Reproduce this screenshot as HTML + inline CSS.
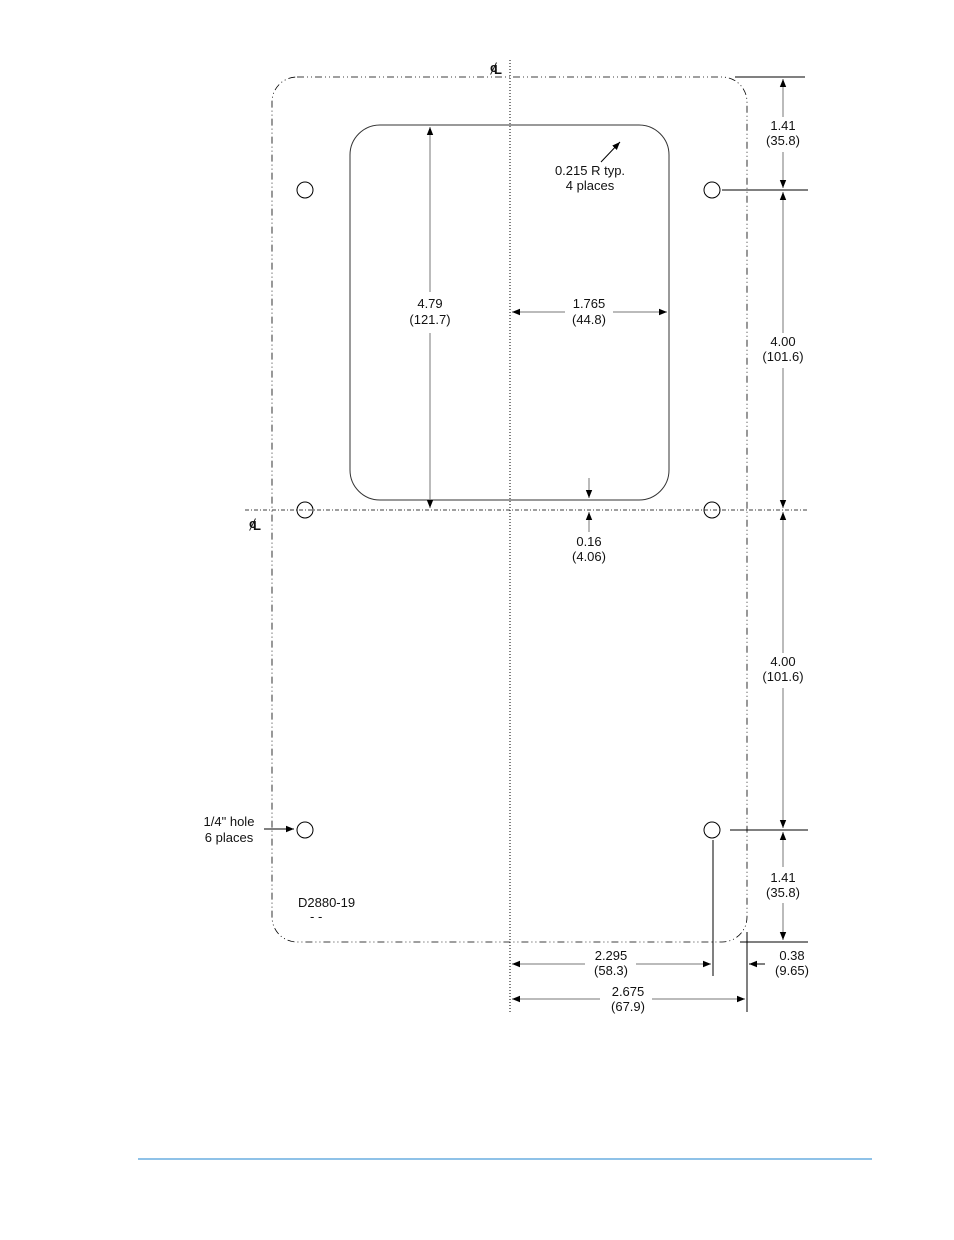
<!DOCTYPE html>
<html><head><style>
body{margin:0;background:#fff}
svg text{font-family:"Liberation Sans",sans-serif;font-size:13px;fill:#111}
</style></head><body>
<svg width="954" height="1235" viewBox="0 0 954 1235" xmlns="http://www.w3.org/2000/svg">
<defs><marker id="a" viewBox="0 0 10 10" refX="10" refY="5" markerWidth="8" markerHeight="8" orient="auto-start-reverse" markerUnits="userSpaceOnUse"><path d="M0,1 L10,5 L0,9z" fill="#000"/></marker></defs>
<g fill="none" stroke="#000" stroke-width="1">
<rect x="272" y="77" width="475" height="865" rx="25" stroke-width="0.8" stroke-dasharray="7,3,1,3,1,3"/>
<line x1="510" y1="60" x2="510" y2="1012" stroke-dasharray="1,2"/>
<line x1="245" y1="510" x2="808" y2="510" stroke-dasharray="4,2,1,2" stroke-width="0.8"/>
<rect x="350" y="125" width="319" height="375" rx="30" stroke="#333"/>
<circle cx="305" cy="190" r="8"/><circle cx="712" cy="190" r="8"/>
<circle cx="305" cy="510" r="8"/><circle cx="712" cy="510" r="8"/>
<circle cx="305" cy="830" r="8"/><circle cx="712" cy="830" r="8"/>
<line x1="735" y1="77" x2="805" y2="77"/>
<line x1="722" y1="190" x2="808" y2="190"/>
<line x1="730" y1="830" x2="808" y2="830"/>
<line x1="740" y1="942" x2="808" y2="942"/>
<g stroke="#777">
<line x1="783" y1="79" x2="783" y2="117" marker-start="url(#a)"/>
<line x1="783" y1="152" x2="783" y2="188" marker-end="url(#a)"/>
<line x1="783" y1="192" x2="783" y2="333" marker-start="url(#a)"/>
<line x1="783" y1="368" x2="783" y2="508" marker-end="url(#a)"/>
<line x1="783" y1="512" x2="783" y2="653" marker-start="url(#a)"/>
<line x1="783" y1="688" x2="783" y2="828" marker-end="url(#a)"/>
<line x1="783" y1="832" x2="783" y2="867" marker-start="url(#a)"/>
<line x1="783" y1="903" x2="783" y2="940" marker-end="url(#a)"/>
<line x1="430" y1="127" x2="430" y2="292" marker-start="url(#a)"/>
<line x1="430" y1="333" x2="430" y2="508" marker-end="url(#a)"/>
<line x1="512" y1="312" x2="565" y2="312" marker-start="url(#a)"/>
<line x1="613" y1="312" x2="667" y2="312" marker-end="url(#a)"/>
<line x1="589" y1="478" x2="589" y2="498" marker-end="url(#a)"/>
<line x1="589" y1="532" x2="589" y2="512" marker-end="url(#a)"/>
<line x1="512" y1="964" x2="585" y2="964" marker-start="url(#a)"/>
<line x1="636" y1="964" x2="711" y2="964" marker-end="url(#a)"/>
<line x1="512" y1="999" x2="600" y2="999" marker-start="url(#a)"/>
<line x1="652" y1="999" x2="745" y2="999" marker-end="url(#a)"/>
</g>
<line x1="601" y1="162" x2="620" y2="142" marker-end="url(#a)"/>
<line x1="264" y1="829" x2="294" y2="829" marker-end="url(#a)"/>
<line x1="765" y1="964" x2="749" y2="964" marker-end="url(#a)"/>
<line x1="713" y1="840" x2="713" y2="976"/>
<line x1="747" y1="932" x2="747" y2="1012"/>
</g>
<text x="490" y="72" font-weight="bold" font-size="14">ȼ</text>
<text x="494" y="74" font-weight="bold" font-size="12">L</text>
<text x="249" y="528" font-weight="bold" font-size="14">ȼ</text>
<text x="253" y="530" font-weight="bold" font-size="12">L</text>
<g text-anchor="middle">
<text x="783" y="130">1.41</text><text x="783" y="145">(35.8)</text>
<text x="590" y="175">0.215 R typ.</text><text x="590" y="190">4 places</text>
<text x="430" y="308">4.79</text><text x="430" y="324">(121.7)</text>
<text x="589" y="308">1.765</text><text x="589" y="324">(44.8)</text>
<text x="783" y="346">4.00</text><text x="783" y="361">(101.6)</text>
<text x="589" y="546">0.16</text><text x="589" y="561">(4.06)</text>
<text x="783" y="666">4.00</text><text x="783" y="681">(101.6)</text>
<text x="229" y="826">1/4" hole</text><text x="229" y="842">6 places</text>
<text x="783" y="882">1.41</text><text x="783" y="897">(35.8)</text>
<text x="611" y="960">2.295</text><text x="611" y="975">(58.3)</text>
<text x="792" y="960">0.38</text><text x="792" y="975">(9.65)</text>
<text x="628" y="996">2.675</text><text x="628" y="1011">(67.9)</text>
</g>
<text x="298" y="907" font-size="11">D2880-19</text>
<text x="310" y="921" font-size="11">-   -</text>
<line x1="138" y1="1159" x2="872" y2="1159" stroke="#1f86d0" stroke-width="1"/>
</svg>
</body></html>
